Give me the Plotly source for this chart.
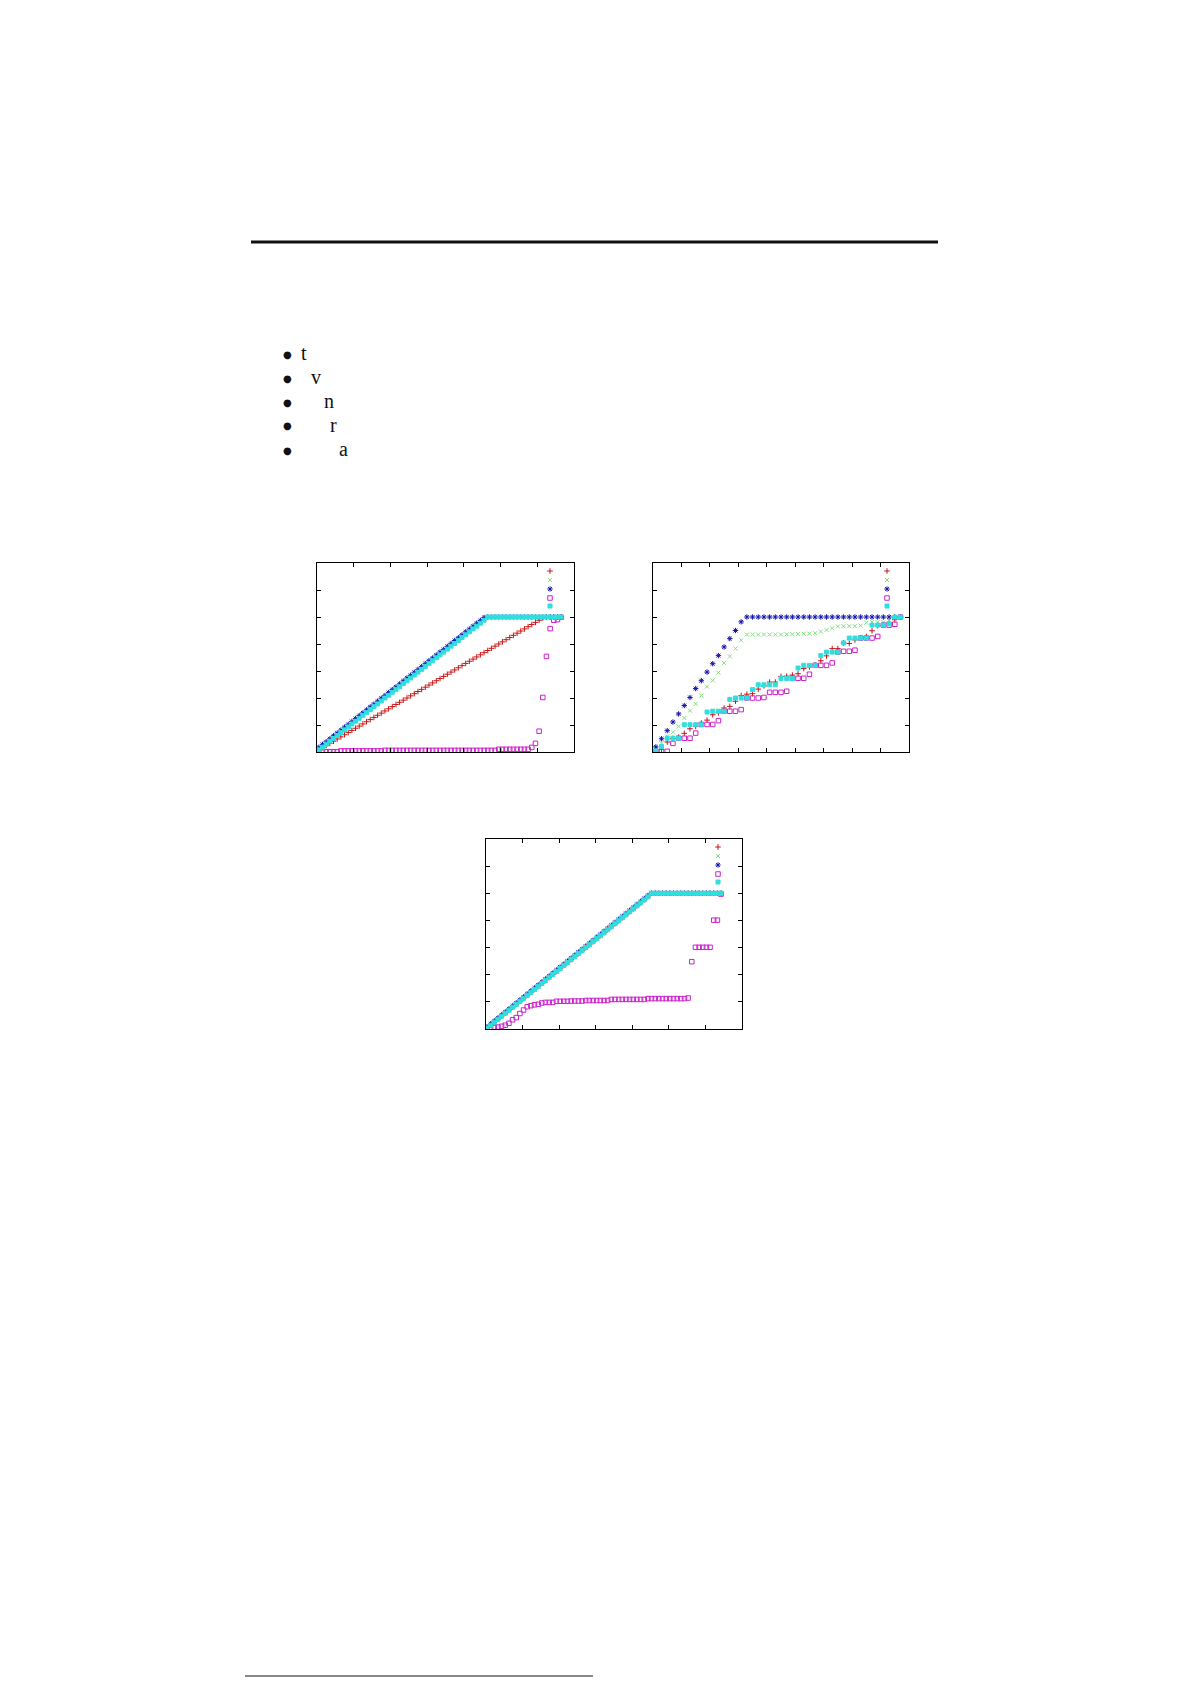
import plotly.graph_objects as go

# page size in pixels; the html body adds an 8px margin, so the figure is
# drawn 16px smaller and page coordinates are shifted by that margin
PAGE_MARGIN = 8
W, H = 1191 - 2 * PAGE_MARGIN, 1685 - 2 * PAGE_MARGIN

# ---- data: panel 1 (upper left), x = sample index 1..67 ----
red1 = [0.8, 1.6, 2.4, 3.2, 4.0, 4.8, 5.6, 6.4, 7.2, 8.0,
        8.8, 9.6, 10.4, 11.2, 12.0, 12.8, 13.6, 14.4, 15.2, 16.0,
        16.8, 17.6, 18.4, 19.2, 20.0, 20.8, 21.6, 22.4, 23.2, 24.0,
        24.8, 25.6, 26.4, 27.2, 28.0, 28.8, 29.6, 30.4, 31.2, 32.0,
        32.8, 33.6, 34.4, 35.2, 36.0, 36.8, 37.6, 38.4, 39.2, 40.0,
        40.8, 41.6, 42.4, 43.2, 44.0, 44.8, 45.6, 46.4, 47.2, 48.0,
        48.8, 49.6, 50.0, 50.0, 50.0, 50.0, 50.0]
green1 = [1.2, 2.3, 3.4, 4.4, 5.5, 6.6, 7.6, 8.7, 9.8, 10.8,
          11.9, 13.0, 14.0, 15.1, 16.2, 17.2, 18.3, 19.4, 20.4, 21.5,
          22.6, 23.6, 24.7, 25.8, 26.8, 27.9, 29.0, 30.0, 31.1, 32.2,
          33.2, 34.3, 35.4, 36.4, 37.5, 38.6, 39.6, 40.7, 41.8, 42.8,
          43.9, 45.0, 46.0, 47.1, 48.2, 49.2, 50.0, 50.0, 50.0, 50.0,
          50.0, 50.0, 50.0, 50.0, 50.0, 50.0, 50.0, 50.0, 50.0, 50.0,
          50.0, 50.0, 50.0, 50.0, 50.0, 50.0, 50.0]
blue1 = [1.7, 2.8, 3.8, 4.9, 6.0, 7.0, 8.1, 9.2, 10.2, 11.3,
         12.4, 13.5, 14.5, 15.6, 16.7, 17.7, 18.8, 19.9, 20.9, 22.0,
         23.1, 24.1, 25.2, 26.3, 27.4, 28.4, 29.5, 30.6, 31.6, 32.7,
         33.8, 34.8, 35.9, 37.0, 38.0, 39.1, 40.2, 41.3, 42.3, 43.4,
         44.5, 45.5, 46.6, 47.7, 48.7, 49.8, 50.0, 50.0, 50.0, 50.0,
         50.0, 50.0, 50.0, 50.0, 50.0, 50.0, 50.0, 50.0, 50.0, 50.0,
         50.0, 50.0, 50.0, 50.0, 50.0, 50.0, 50.0]
magenta1 = [0.1, 0.1, 0.1, 0.1, 0.1, 0.1, 0.4, 0.4, 0.4, 0.4,
            0.4, 0.4, 0.4, 0.4, 0.4, 0.4, 0.4, 0.4, 0.6, 0.6,
            0.6, 0.6, 0.6, 0.6, 0.6, 0.6, 0.6, 0.6, 0.6, 0.6,
            0.6, 0.6, 0.6, 0.6, 0.6, 0.6, 0.6, 0.6, 0.6, 0.6,
            0.6, 0.6, 0.6, 0.6, 0.6, 0.6, 0.6, 0.6, 0.6, 1.0,
            1.0, 1.0, 1.0, 1.0, 1.0, 1.0, 1.0, 1.0, 1.7, 3.2,
            7.7, 20.2, 35.4, 45.7, 48.8, 49.0, 49.9]
cyan1 = [0.8, 1.8, 2.9, 4.0, 5.0, 6.1, 7.2, 8.2, 9.3, 10.4,
         11.4, 12.5, 13.6, 14.6, 15.7, 16.8, 17.8, 18.9, 20.0, 21.0,
         22.1, 23.2, 24.2, 25.3, 26.4, 27.4, 28.5, 29.6, 30.6, 31.7,
         32.8, 33.8, 34.9, 36.0, 37.0, 38.1, 39.2, 40.2, 41.3, 42.4,
         43.4, 44.5, 45.6, 46.6, 47.7, 48.8, 50.0, 50.0, 50.0, 50.0,
         50.0, 50.0, 50.0, 50.0, 50.0, 50.0, 50.0, 50.0, 50.0, 50.0,
         50.0, 50.0, 50.0, 50.0, 50.0, 50.0, 50.0]

# ---- data: panel 2 (upper right), x = sample index 1..44 ----
red2 = [0.3, 1.0, 3.7, 5.0, 5.5, 6.9, 8.6, 9.5, 10.7, 11.8,
        13.8, 14.5, 16.3, 16.9, 18.8, 20.9, 21.4, 21.6, 23.3, 24.5,
        25.9, 25.9, 28.0, 28.1, 28.5, 29.0, 30.9, 31.5, 32.3, 33.8,
        35.6, 38.3, 38.3, 40.4, 40.2, 41.5, 42.2, 42.8, 44.9, 46.8,
        47.0, 48.0, 49.0, 50.0]
green2 = [1.1, 3.3, 5.8, 7.3, 9.5, 12.6, 15.3, 17.8, 20.9, 24.2,
          26.5, 29.4, 33.0, 35.4, 38.3, 41.4, 43.5, 43.5, 43.5, 43.5,
          43.5, 43.5, 43.5, 43.6, 43.6, 43.7, 43.8, 43.8, 44.0, 44.6,
          45.2, 45.8, 46.5, 46.6, 46.6, 46.6, 46.8, 47.9, 48.1, 48.1,
          48.1, 48.5, 50.0, 50.0]
blue2 = [1.9, 4.9, 7.9, 11.1, 14.1, 17.2, 20.2, 23.5, 26.4, 29.6,
         32.7, 35.7, 38.9, 42.0, 45.0, 48.2, 50.0, 50.0, 50.0, 50.0,
         50.0, 50.0, 50.0, 50.0, 50.0, 50.0, 50.0, 50.0, 50.0, 50.0,
         50.0, 50.0, 50.0, 50.0, 50.0, 50.0, 50.0, 50.0, 50.0, 50.0,
         50.0, 50.0, 50.0, 50.0]
magenta2 = [0.25, 0.25, 0.25, 3.2, 5.1, 5.1, 5.1, 7.0, 10.2, 10.2,
            10.2, 11.6, 15.1, 15.1, 15.1, 15.7, 20.0, 20.0, 20.0, 20.2,
            22.1, 22.1, 22.1, 22.5, 27.3, 27.3, 27.3, 28.8, 32.1, 32.1,
            32.1, 33.0, 37.0, 37.3, 37.3, 37.7, 42.2, 42.2, 42.2, 42.8,
            47.0, 47.0, 47.3, 50.0]
cyan2 = [0.4, 2.0, 5.1, 5.1, 5.1, 10.1, 10.1, 10.1, 10.1, 14.8,
         15.1, 15.1, 15.1, 19.5, 20.0, 20.0, 20.0, 23.1, 24.9, 24.9,
         24.9, 24.9, 27.2, 27.2, 27.2, 31.1, 32.1, 32.1, 32.1, 35.7,
         37.0, 37.0, 37.0, 40.4, 42.2, 42.2, 42.2, 42.2, 47.0, 47.0,
         47.0, 47.5, 50.0, 50.0]

# ---- data: panel 3 (bottom), x = sample index 1..65 ----
blue3 = [0.8, 1.9, 3.0, 4.1, 5.2, 6.3, 7.4, 8.5, 9.6, 10.7,
         11.8, 12.9, 14.0, 15.1, 16.2, 17.3, 18.4, 19.5, 20.6, 21.7,
         22.8, 23.9, 25.0, 26.1, 27.2, 28.3, 29.4, 30.5, 31.6, 32.7,
         33.8, 34.9, 36.0, 37.1, 38.2, 39.3, 40.4, 41.5, 42.6, 43.7,
         44.8, 45.9, 47.0, 48.1, 49.2, 50.0, 50.0, 50.0, 50.0, 50.0,
         50.0, 50.0, 50.0, 50.0, 50.0, 50.0, 50.0, 50.0, 50.0, 50.0,
         50.0, 50.0, 50.0, 50.0, 50.0]
cyan3 = [0.3, 1.4, 2.5, 3.6, 4.7, 5.8, 6.9, 8.0, 9.1, 10.2,
         11.3, 12.4, 13.5, 14.6, 15.7, 16.8, 17.9, 19.0, 20.1, 21.2,
         22.3, 23.4, 24.5, 25.6, 26.7, 27.8, 28.9, 30.0, 31.1, 32.2,
         33.3, 34.4, 35.5, 36.6, 37.7, 38.8, 39.9, 41.0, 42.1, 43.2,
         44.3, 45.4, 46.5, 47.6, 48.7, 50.0, 50.0, 50.0, 50.0, 50.0,
         50.0, 50.0, 50.0, 50.0, 50.0, 50.0, 50.0, 50.0, 50.0, 50.0,
         50.0, 50.0, 50.0, 50.0, 50.0]
# red and green lie under the blue/cyan points in this panel
red3 = list(cyan3)
green3 = list(cyan3)
magenta3 = [0.4, 0.4, 0.6, 0.7, 1.0, 1.4, 2.1, 3.4, 4.2, 5.7,
            7.0, 8.2, 8.6, 8.9, 9.1, 9.6, 9.8, 9.8, 9.8, 10.2,
            10.2, 10.2, 10.2, 10.3, 10.3, 10.3, 10.3, 10.5, 10.5, 10.5,
            10.5, 10.5, 10.5, 10.5, 10.9, 10.9, 10.9, 10.9, 10.9, 10.9,
            10.9, 10.9, 10.9, 10.9, 11.2, 11.2, 11.2, 11.2, 11.2, 11.2,
            11.2, 11.2, 11.2, 11.2, 11.2, 11.4, 24.8, 30.1, 30.1, 30.1,
            30.1, 30.1, 40.1, 40.1, 49.7]

# gnuplot-like point styles: +, x, *, open square, filled square
colors = ["#c81414", "#80e080", "#1414b0", "#cc22cc", "#30dede"]
symbols = ["cross-thin", "x-thin", "asterisk", "square-open", "square"]
sizes = [4, 4, 4.5, 4.5, 4]


def to_paper_x(p):
    return (p - PAGE_MARGIN) / W


def to_paper_y(p):
    return 1 - (p - PAGE_MARGIN) / H


# panel frames (page pixels) and axis setups
panels = [
    dict(series=[red1, green1, blue1, magenta1, cyan1],
         frame=(317, 563, 574, 752), xr=[0.5, 70.5], dtick=10,
         key=(550, [571, 580, 589, 598, 606])),
    dict(series=[red2, green2, blue2, magenta2, cyan2],
         frame=(653, 563, 909, 752), xr=[0.5, 45.5], dtick=5,
         key=(887, [571, 580, 589, 598, 606])),
    dict(series=[red3, green3, blue3, magenta3, cyan3],
         frame=(486, 839, 742, 1029), xr=[0.73, 70.73], dtick=10,
         key=(718, [847, 856, 865, 874, 882])),
]

fig = go.Figure()
layout = {}
leg_n = 0
for pi, p in enumerate(panels):
    sfx = "" if pi == 0 else str(pi + 1)
    for si, ys in enumerate(p["series"]):
        leg_n += 1
        leg_id = "legend" if leg_n == 1 else "legend%d" % leg_n
        fig.add_trace(go.Scatter(
            x=list(range(1, len(ys) + 1)), y=ys, mode="markers",
            xaxis="x" + sfx, yaxis="y" + sfx,
            name="", legend=leg_id, showlegend=True,
            marker=dict(symbol=symbols[si], size=sizes[si], color=colors[si],
                        line=dict(color=colors[si], width=1)),
        ))
        # one single-key legend per series so the keys can sit close together
        kx, kys = p["key"]
        layout[leg_id] = dict(
            x=to_paper_x(kx - 20), y=to_paper_y(kys[si]),
            xanchor="left", yanchor="middle",
            bgcolor="rgba(0,0,0,0)", borderwidth=0,
            font=dict(size=6), itemwidth=30,
        )
    x0, y0, x1, y1 = p["frame"]
    axis_common = dict(showline=True, linecolor="black", linewidth=1.3,
                       mirror="ticks", ticks="inside", ticklen=4,
                       tickwidth=1, tickcolor="black", showgrid=False,
                       zeroline=False, showticklabels=False)
    layout["xaxis" + sfx] = dict(axis_common, anchor="y" + sfx,
                                 domain=[to_paper_x(x0), to_paper_x(x1)],
                                 range=p["xr"], tick0=p["xr"][0],
                                 dtick=p["dtick"])
    layout["yaxis" + sfx] = dict(axis_common, anchor="x" + sfx,
                                 domain=[to_paper_y(y1), to_paper_y(y0)],
                                 range=[0, 70], tick0=0, dtick=10)

# bullet list (text stripped in the source, single letters remain)
bullets_y = [354, 378, 402, 426, 450]
letters = ["t", "v", "n", "r", "a"]
letters_x = [304, 316, 329, 333, 343]

annotations = []
for by, ch, lx in zip(bullets_y, letters, letters_x):
    annotations.append(dict(x=to_paper_x(287), y=to_paper_y(by), xref="paper",
                            yref="paper", text="●", showarrow=False,
                            xanchor="center", yanchor="middle",
                            font=dict(family="DejaVu Sans", size=10,
                                      color="#111111")))
    annotations.append(dict(x=to_paper_x(lx), y=to_paper_y(by - 1), xref="paper",
                            yref="paper", text=ch, showarrow=False,
                            xanchor="center", yanchor="middle",
                            font=dict(family="Liberation Serif", size=20,
                                      color="#111111")))

shapes = [
    # heavy rule under the (empty) header
    dict(type="line", xref="paper", yref="paper",
         x0=to_paper_x(251), x1=to_paper_x(938),
         y0=to_paper_y(242), y1=to_paper_y(242),
         line=dict(color="#111111", width=3)),
    # footnote rule at the very bottom of the page (kept inside the figure)
    dict(type="line", xref="paper", yref="paper",
         x0=to_paper_x(245), x1=to_paper_x(593),
         y0=to_paper_y(1676), y1=to_paper_y(1676),
         line=dict(color="#111111", width=1)),
]

fig.update_layout(
    width=W, height=H,
    margin=dict(l=0, r=0, t=0, b=0),
    paper_bgcolor="white", plot_bgcolor="white",
    annotations=annotations, shapes=shapes,
    hovermode="closest",
    **layout,
)

fig.write_html("out.html")
